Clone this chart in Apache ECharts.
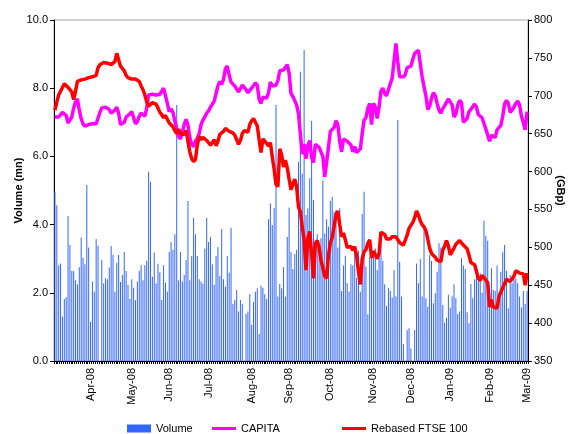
<!DOCTYPE html>
<html>
<head>
<meta charset="utf-8">
<script src="https://cdn.jsdelivr.net/npm/echarts@6/dist/echarts.min.js"></script>
<style>
  html, body { margin: 0; padding: 0; background: #fff; }
  #chart-container { width: 572px; height: 434px; }
</style>
</head>
<body>
<div id="chart-container"></div>
<script>
// trading days, Mar 2008 - Mar 2009 (UK holidays left out)
var holidays = ['2008-03-21', '2008-03-24', '2008-05-05', '2008-05-26', '2008-08-25', '2008-12-25', '2008-12-26', '2009-01-01'];
var monthNames = ['Jan', 'Feb', 'Mar', 'Apr', 'May', 'Jun', 'Jul', 'Aug', 'Sep', 'Oct', 'Nov', 'Dec'];

var dates = [];
for (var t = Date.UTC(2008, 2, 3); t <= Date.UTC(2009, 2, 2); t += 86400000) {
    var d = new Date(t);
    var s = d.toISOString().slice(0, 10);
    if (d.getUTCDay() === 0 || d.getUTCDay() === 6) continue;
    if (holidays.indexOf(s) >= 0) continue;
    dates.push(s);
}

// daily volume (mn)
var volume = [
    4.96, 4.57, 2.81, 2.86, 1.30, 1.82, 1.87, 4.25, 3.40, 2.64,
    2.64, 2.37, 2.25, 2.75, 3.62, 3.03, 2.84, 5.16, 3.33, 1.15,
    2.33, 2.03, 3.58, 3.38, 0, 2.96, 2.27, 2.43, 2.40, 2.74,
    3.37, 3.11, 2.03, 2.88, 3.11, 2.32, 2.52, 3.20, 2.64, 2.23,
    1.82, 2.40, 2.15, 1.78, 2.33, 2.64, 2.81, 2.37, 2.81, 2.94,
    5.55,
    5.26, 2.47, 3.18, 2.27, 2.85, 2.60, 1.79, 2.81, 2.30, 2.03,
    3.20, 3.49, 3.26, 3.72, 7.51, 2.37, 3.20, 2.33, 2.52, 2.96,
    4.69, 2.37, 3.08, 4.20, 3.72, 3.08, 2.40, 2.33, 2.27, 3.30,
    4.20, 3.49, 3.64, 2.84, 2.23, 3.08, 3.34, 2.49, 3.87, 2.40,
    2.18, 3.08, 2.59, 3.91, 1.67, 1.79, 2.08, 1.45, 1.79, 1.67,
    0,
    1.38, 1.45, 1.96, 1.06, 1.74, 2.03, 2.13, 0.79, 2.21, 2.15,
    1.96, 1.82, 4.16, 4.62, 3.99, 4.49, 7.51, 1.89, 2.26, 2.13,
    2.75, 1.89, 3.64, 4.50, 3.20, 2.70, 3.14, 3.26, 5.84, 8.48,
    5.50, 9.12, 4.28, 4.48, 5.36, 7.04, 4.72, 3.30, 3.72, 3.19,
    3.60, 5.29, 3.74, 4.16, 3.94, 4.69, 4.82, 4.38, 4.42, 3.33,
    4.48,
    2.05, 2.80, 3.09, 2.28, 2.03, 2.84, 2.80, 3.28, 2.44, 3.23,
    2.03, 4.31, 4.96, 2.77, 1.37, 3.04, 3.13, 3.09, 3.30, 2.67,
    3.16, 3.45, 2.94, 2.25, 1.61, 2.15, 2.05, 1.86, 2.67, 1.90,
    7.07, 2.91, 1.89, 0.50, 0, 0.91, 0.96, 0.37, 0, 0.91,
    2.86, 2.28, 2.99, 1.89, 3.84, 1.84, 1.59, 3.11, 2.93, 1.69,
    1.99,
    2.62, 3.45, 3.33, 1.64, 1.12, 1.27, 1.94, 1.56, 1.89, 2.25,
    1.84, 1.38, 1.45, 3.01, 2.80, 2.70, 1.43, 1.11, 2.26, 1.84,
    2.40, 2.81, 2.33, 2.57, 2.00, 4.11, 3.67, 3.53, 2.03, 2.72,
    2.08, 2.05, 2.80, 2.01, 2.62, 3.19, 3.40, 2.65, 1.55, 2.52,
    2.28, 2.52, 2.42, 2.28, 1.89, 1.57, 2.05, 1.67, 2.05
];

// CAPITA share price (GBp)
var capita = [
    672, 672, 672, 674, 678, 679, 674, 664, 668, 672,
    684, 692, 696, 681, 670, 663, 660, 661, 662, 663,
    663, 663, 663, 664, 678, 684, 686, 685, 686, 682,
    677, 675, 681, 685, 677, 662, 660, 665, 672, 674,
    676, 679, 680, 663, 666, 673, 677, 677, 673, 684,
    701, 699, 702, 702, 701, 699, 702, 706, 710, 700,
    690, 679, 683, 678, 667, 657, 646, 643, 652, 662,
    669, 661, 645, 636, 633, 640, 644, 650, 662, 668,
    672, 677, 680, 685, 689, 693, 703, 713, 719, 715,
    722, 736, 739, 727, 718, 716, 713, 709, 705, 707,
    714, 715, 708, 704, 707, 710, 711, 717, 714, 695,
    690, 698, 698, 697, 704, 718, 713, 711, 714, 720,
    733, 735, 734, 735, 741, 730, 703, 699, 699, 688,
    676, 675, 623, 636, 617, 634, 641, 618, 612, 636,
    635, 632, 632, 620, 593, 612, 632, 653, 651, 658,
    667, 662, 640, 626, 643, 641, 640, 639, 635, 626,
    633, 625, 623, 630, 650, 668, 671, 683, 690, 662,
    690, 685, 670, 685, 706, 710, 703, 700, 708, 716,
    723, 723, 769, 745, 725, 725, 725, 728, 737, 739,
    739, 748, 756, 756, 760, 758, 725, 712, 700, 682,
    686, 697, 704, 700, 690, 681, 677, 683, 687, 689,
    696, 697, 688, 672, 676, 688, 694, 691, 665, 667,
    670, 679, 682, 684, 689, 685, 675, 674, 671, 670,
    656, 648, 640, 648, 646, 645, 655, 653, 661, 673,
    689, 694, 690, 678, 679, 685, 690, 693, 688, 673,
    665, 655, 679
];

// FTSE 100 rebased to CAPITA
var ftse = [
    681, 692, 701, 706, 711, 716, 714, 711, 708, 705,
    695, 706, 719, 720, 721, 722, 722, 723, 724, 724,
    725, 726, 727, 737, 741, 742, 744, 746, 743, 741,
    741, 741, 745, 756, 755, 739, 737, 733, 727, 724,
    722, 722, 723, 722, 720, 719, 713, 708, 701, 692,
    686, 688, 691, 692, 689, 684, 678, 675, 671, 674,
    676, 664, 666, 659, 654, 650, 656, 650, 652, 649,
    654, 640, 626, 617, 613, 616, 635, 646, 642, 645,
    646, 641, 638, 635, 638, 642, 634, 640, 649, 651,
    653, 657, 657, 653, 654, 651, 648, 649, 636, 641,
    650, 654, 655, 652, 662, 667, 670, 668, 660, 642,
    625, 643, 643, 637, 634, 638, 620, 603, 583, 580,
    630, 622, 606, 615, 605, 590, 576, 583, 590, 580,
    553, 547, 527, 510, 470, 512, 521, 492, 459, 505,
    509, 500, 483, 481, 462, 459, 490, 506, 513, 528,
    543, 548, 530, 514, 519, 510, 500, 499, 501, 496,
    501, 489, 468, 451, 485, 494, 497, 505, 510, 486,
    495, 496, 485, 492, 520, 521, 517, 511, 510, 511,
    514, 516, 514, 510, 506, 505, 503, 505, 516, 525,
    527, 533, 539, 548, 543, 535, 530, 527, 522, 511,
    499, 492, 491, 487, 483, 481, 481, 496, 502, 509,
    502, 490, 490, 499, 504, 505, 509, 510, 503, 502,
    498, 490, 480, 478, 477, 468, 459, 456, 463, 465,
    457, 453, 421, 431, 421, 421, 420, 435, 441, 443,
    452, 458, 456, 455, 456, 462, 469, 468, 466, 467,
    465, 450, 466
];

var font = "'Liberation Sans', Arial, sans-serif";
var lineIcon = 'path://M0,0 H24 V3 H0 Z';

var dom = document.getElementById('chart-container');
var myChart = echarts.init(dom, null, { renderer: 'canvas' });

function monthStart(index) {
    if (index === 0) return false;
    return dates[index].slice(5, 7) !== dates[index - 1].slice(5, 7);
}

var legendText = { fontFamily: font, fontSize: 11, color: '#000' };

var option = {
    animation: false,
    backgroundColor: '#fff',
    textStyle: { fontFamily: font },
    grid: {
        left: 54, right: 44, top: 20, bottom: 73,
        containLabel: false,
        outerBoundsMode: 'none',
        show: true, borderColor: '#a6a6a6', borderWidth: 1
    },
    legend: [
        {
            data: [{ name: 'Volume', icon: 'rect' }],
            left: 122, top: 418, itemWidth: 24, itemHeight: 8, itemGap: 2,
            textStyle: legendText
        },
        {
            data: [{ name: 'CAPITA', icon: lineIcon }],
            left: 207, top: 418, itemWidth: 24, itemHeight: 8, itemGap: 2,
            textStyle: legendText
        },
        {
            data: [{ name: 'Rebased FTSE 100', icon: lineIcon }],
            left: 337, top: 418, itemWidth: 24, itemHeight: 8, itemGap: 2,
            textStyle: legendText
        }
    ],
    xAxis: {
        type: 'category',
        data: dates,
        boundaryGap: true,
        axisLine: { lineStyle: { color: '#000', width: 1 } },
        axisTick: { show: true, interval: 0, length: 3, lineStyle: { color: '#000' } },
        axisLabel: {
            interval: function (index) { return monthStart(index); },
            rotate: 90,
            margin: 7,
            fontSize: 11,
            color: '#000',
            fontFamily: font,
            formatter: function (v) {
                return monthNames[parseInt(v.slice(5, 7), 10) - 1] + '-' + v.slice(2, 4);
            }
        },
        splitLine: { show: false }
    },
    yAxis: [
        {
            type: 'value',
            position: 'left',
            min: 0, max: 10, interval: 2,
            name: 'Volume (mn)',
            nameLocation: 'middle',
            nameRotate: 90,
            nameGap: 30,
            nameMoveOverlap: false,
            nameTextStyle: { fontFamily: font, fontSize: 11, fontWeight: 'bold', color: '#000' },
            axisLine: { show: true, lineStyle: { color: '#000' } },
            axisTick: { show: true, length: 4, lineStyle: { color: '#000' } },
            axisLabel: {
                fontSize: 11, color: '#000', fontFamily: font, margin: 6,
                formatter: function (v) { return v.toFixed(1); }
            },
            splitLine: { show: false }
        },
        {
            type: 'value',
            position: 'right',
            min: 350, max: 800, interval: 50,
            name: '(GBp)',
            nameLocation: 'middle',
            nameRotate: -90,
            nameGap: 27,
            nameMoveOverlap: false,
            nameTextStyle: { fontFamily: font, fontSize: 11, fontWeight: 'bold', color: '#000' },
            axisLine: { show: true, lineStyle: { color: '#000' } },
            axisTick: { show: true, length: 4, lineStyle: { color: '#000' } },
            axisLabel: { fontSize: 11, color: '#000', fontFamily: font, margin: 6 },
            splitLine: { show: false }
        }
    ],
    series: [
        {
            name: 'Volume',
            type: 'bar',
            yAxisIndex: 0,
            data: volume,
            barWidth: 1,
            itemStyle: { color: '#3366ff' }
        },
        {
            name: 'CAPITA',
            type: 'line',
            yAxisIndex: 1,
            data: capita,
            symbol: 'none',
            itemStyle: { color: '#ff00ff' },
            lineStyle: { color: '#ff00ff', width: 3.5 }
        },
        {
            name: 'Rebased FTSE 100',
            type: 'line',
            yAxisIndex: 1,
            data: ftse,
            symbol: 'none',
            itemStyle: { color: '#ff0000' },
            lineStyle: { color: '#ff0000', width: 3.5 }
        }
    ]
};

if (option && typeof option === 'object') {
    myChart.setOption(option);
}

window.addEventListener('resize', myChart.resize);
</script>
</body>
</html>
